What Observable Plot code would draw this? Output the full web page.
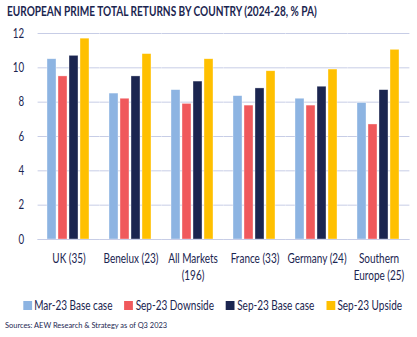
<!DOCTYPE html>
<html>
<head>
<meta charset="utf-8">
<script src="https://cdn.jsdelivr.net/npm/d3@7"></script>
<script src="https://cdn.jsdelivr.net/npm/@observablehq/plot@0.6"></script>
<style>
  html, body { margin: 0; padding: 0; background: #fff; }
  body { width: 417px; height: 337px; position: relative; overflow: hidden; font-family: Lato, "Noto Sans", sans-serif; color: #1b2550; }
  #title { position: absolute; left: 7px; top: 3px; font-size: 13px; font-weight: 700; white-space: nowrap; transform: scaleX(0.775); transform-origin: 0 0; }
  #chart { position: absolute; left: 0; top: 22px; }
  #legend { position: absolute; left: 0; width: 417px; top: 298px; display: flex; justify-content: center; gap: 15px; font-size: 12.5px; transform: translateX(4px) scaleX(0.8); transform-origin: 50% 0; }
  #legend .item { display: flex; align-items: center; gap: 3px; white-space: nowrap; flex: none; }
  #legend .sw { width: 11px; height: 9px; display: inline-block; flex: none; }
  #caption { position: absolute; left: 5px; top: 320px; font-size: 8px; white-space: nowrap; transform: scaleX(0.93); transform-origin: 0 0; }
</style>
</head>
<body>
<div id="title">EUROPEAN PRIME TOTAL RETURNS BY COUNTRY (2024-28, % PA)</div>
<div id="chart"></div>
<div id="legend"></div>
<div id="caption">Sources: AEW Research &amp; Strategy as of Q3 2023</div>
<script>
const countries = ["UK (35)", "Benelux (23)", "All Markets\n(196)", "France (33)", "Germany (24)", "Southern\nEurope (25)"];
const series = ["Mar-23 Base case", "Sep-23 Downside", "Sep-23 Base case", "Sep-23 Upside"];
const colors = ["#8db4e2", "#f0595c", "#1b2550", "#ffc000"];
const mar23Base = [10.5, 8.5, 8.7, 8.35, 8.2, 7.95];
const sep23Down = [9.5, 8.2, 7.9, 7.8, 7.8, 6.7];
const sep23Base = [10.7, 9.5, 9.2, 8.8, 8.9, 8.7];
const sep23Up = [11.7, 10.8, 10.5, 9.8, 9.9, 11.05];
const yTicks = [0, 2, 4, 6, 8, 10, 12];

const seriesValues = [mar23Base, sep23Down, sep23Base, sep23Up];
const data = [];
countries.forEach((c, i) => {
  series.forEach((s, j) => data.push({country: c, series: s, value: seriesValues[j][i]}));
});

// facet band geometry: paddingOuter = paddingInner / 2 so half the inner gap equals the outer gap
const W = 417, ML = 36, MR = 5, PI = 0.3, PO = 0.15;
const step = (W - ML - MR) / (countries.length - PI + 2 * PO);
const halfGap = step * PI / 2;

const chart = Plot.plot({
  width: W,
  height: 268,
  marginTop: 11,
  marginLeft: ML,
  marginRight: MR,
  marginBottom: 51,
  style: {fontFamily: "Lato, 'Noto Sans', sans-serif", fontSize: "12.5px", color: "#1b2550", background: "#fff"},
  fx: {domain: countries, paddingInner: PI, paddingOuter: PO, label: null, axis: null},
  x: {domain: series, axis: null, paddingInner: 0.15, paddingOuter: 0},
  y: {domain: [0, 12], label: null, axis: null},
  color: {domain: series, range: colors},
  marks: [
    Plot.gridY({ticks: yTicks, stroke: "#c7cde6", strokeOpacity: 1, strokeWidth: 1, insetLeft: -halfGap, insetRight: -halfGap}),
    Plot.axisY({ticks: yTicks, tickSize: 0, tickPadding: 14 + halfGap, label: null, tickFormat: d3.format("d"), fontSize: 12.5}),
    Plot.axisFx({anchor: "bottom", tickSize: 0, tickPadding: 11, label: null, lineHeight: 1.36, fontSize: 12.5}),
    Plot.barY(data, {fx: "country", x: "series", y: "value", fill: "series", stroke: "#ffffff", strokeOpacity: 0.6, strokeWidth: 0.6}),
    Plot.ruleY([0], {stroke: "#c7cde6", strokeWidth: 1.2, insetLeft: -halfGap, insetRight: -halfGap})
  ]
});
document.getElementById("chart").appendChild(chart);

// condense the axis labels to match the narrow typeface of the reference
chart.querySelectorAll('g[aria-label="fx-axis tick label"] text').forEach(t => {
  t.setAttribute("transform", (t.getAttribute("transform") || "") + " scale(0.8,1)");
});
chart.querySelectorAll('g[aria-label="y-axis tick label"] text').forEach(t => {
  t.setAttribute("transform", (t.getAttribute("transform") || "") + " scale(0.78,1)");
});

const legend = document.getElementById("legend");
series.forEach((s, j) => {
  const item = document.createElement("div");
  item.className = "item";
  const sw = document.createElement("span");
  sw.className = "sw";
  sw.style.background = colors[j];
  const t = document.createElement("span");
  t.textContent = s;
  item.appendChild(sw);
  item.appendChild(t);
  legend.appendChild(item);
});
</script>
</body>
</html>
